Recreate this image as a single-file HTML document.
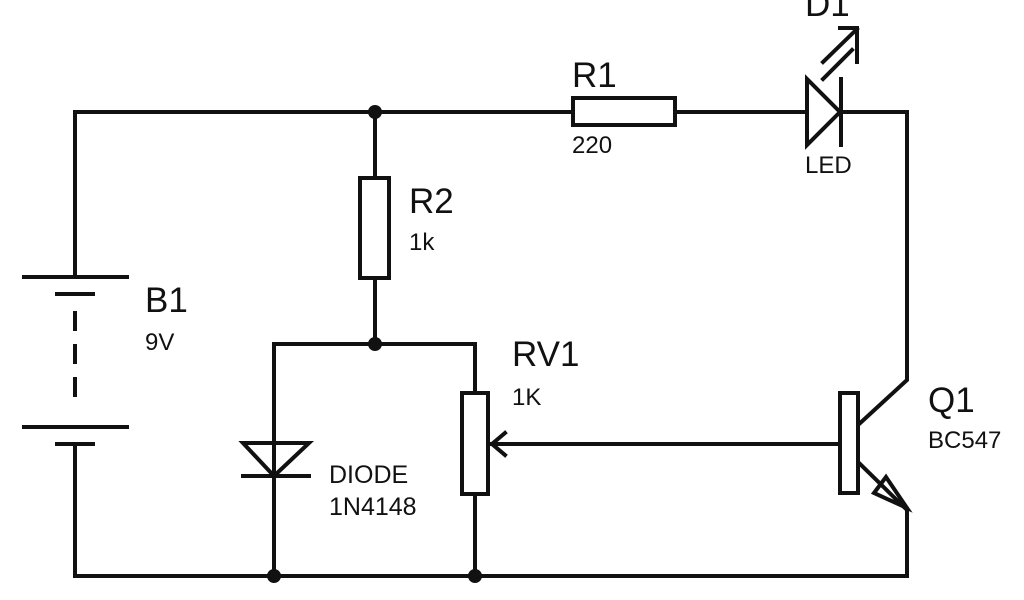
<!DOCTYPE html>
<html><head><style>html,body{margin:0;padding:0;background:#fff;width:1024px;height:600px;overflow:hidden}</style></head>
<body>
<svg width="1024" height="600" viewBox="0 0 1024 600" xmlns="http://www.w3.org/2000/svg" font-family="Liberation Sans, sans-serif" fill="#111">
<g stroke="#111" stroke-width="4" fill="none" stroke-linecap="square">
<path d="M75 277 V112 H573 M675 112 H807 M841 112 H907 V380 L858 425"/>
<path d="M75 444 V576 H907 V510 L858 462"/>
<path d="M24 277 H127 M57 294 H93 M24 427 H127 M57 444 H93"/>
<path d="M75 311 V400" stroke-dasharray="20 13" stroke-linecap="butt"/>
<rect x="573" y="98" width="102" height="27" fill="#fff"/>
<path d="M375 112 V178 M375 278 V344 H475 V393 M375 344 H274 V576 M475 494 V576"/>
<rect x="360" y="178" width="29" height="100" fill="#fff"/>
<rect x="462" y="393" width="26" height="101" fill="#fff"/>
<path d="M840 444 H492 M505 433 L492 444 L505 455"/>
<path d="M243 443 H309 L274 476 Z M243 476 H309"/>
<path d="M807 79 V145 L840 112 Z M841 79 V145"/>
<path d="M823 62 L857 29 M823 79 L852 50 M840 28 H857 V62"/>
<rect x="840" y="393" width="18" height="100" fill="#fff"/>
<path d="M874 493 L886 477 L907 508 Z"/>
</g>
<g fill="#111">
<circle cx="375" cy="112" r="7"/><circle cx="375" cy="344" r="7"/>
<circle cx="274" cy="576" r="7"/><circle cx="475" cy="576" r="7"/>
</g>
<text x="145" y="312" font-size="35">B1</text>
<text x="145" y="350" font-size="24">9V</text>
<text x="572" y="87" font-size="35">R1</text>
<text x="572" y="153" font-size="24">220</text>
<text x="805" y="16" font-size="35">D1</text>
<text x="805" y="173" font-size="24">LED</text>
<text x="409" y="213" font-size="35">R2</text>
<text x="409" y="250" font-size="24">1k</text>
<text x="512" y="366" font-size="35">RV1</text>
<text x="512" y="405" font-size="24">1K</text>
<text x="329" y="483" font-size="25">DIODE</text>
<text x="329" y="515" font-size="25">1N4148</text>
<text x="928" y="412" font-size="35">Q1</text>
<text x="928" y="448" font-size="24">BC547</text>
</svg>
</body></html>
